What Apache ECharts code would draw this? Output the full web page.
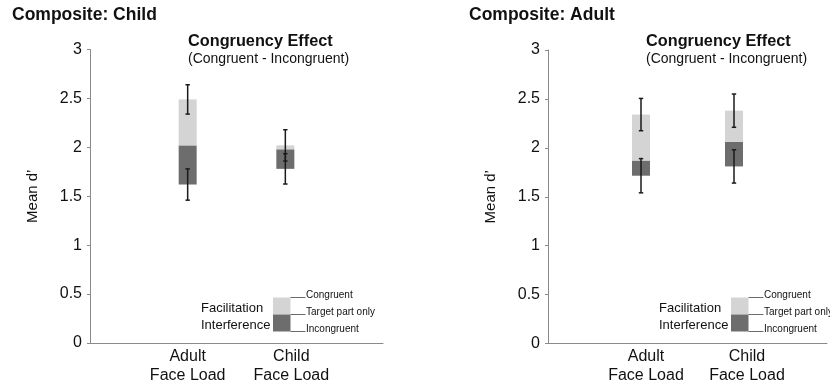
<!DOCTYPE html>
<html>
<head>
<meta charset="utf-8">
<script src="https://cdn.jsdelivr.net/npm/echarts@6/dist/echarts.min.js"></script>
<style>
html,body{margin:0;padding:0;background:#fff;}
#c{width:830px;height:387px;}
</style>
</head>
<body>
<div id="c"></div>
<script>
// ---- data ----
const categories = ['Adult\nFace Load', 'Child\nFace Load'];
const panelTitles = ['Composite: Child', 'Composite: Adult'];
const effectTitle = 'Congruency Effect';
const effectSubtitle = '(Congruent - Incongruent)';
const yAxisName = "Mean d\u2019";
const yTickMin = 0, yTickMax = 3, yTickStep = 0.5;
const legendSideLabels = ['Facilitation', 'Interference'];
const legendLineLabels = ['Congruent', 'Target part only', 'Incongruent'];

// Composite: Child panel
const childCongruent = [2.49, 2.02];
const childTarget = [2.02, 1.98];
const childIncongruent = [1.62, 1.78];
const childCongruentErr = [0.15, 0.16];
const childIncongruentErr = [0.16, 0.155];

// Composite: Adult panel
const adultCongruent = [2.34, 2.38];
const adultTarget = [1.87, 2.06];
const adultIncongruent = [1.715, 1.81];
const adultCongruentErr = [0.165, 0.17];
const adultIncongruentErr = [0.175, 0.17];

// ---- style / layout ----
const FONT = 'Liberation Sans, Arial, Helvetica, sans-serif';
const LIGHT = '#d4d4d4';
const DARK = '#6d6d6d';
const AXIS = '#8a8a8a';
const panels = [
  {left: 90, top: 49.5, cong: childCongruent, targ: childTarget, inc: childIncongruent,
   ce: childCongruentErr, ie: childIncongruentErr, shift: [0, 6], titleX: 12},
  {left: 548, top: 50, cong: adultCongruent, targ: adultTarget, inc: adultIncongruent,
   ce: adultCongruentErr, ie: adultIncongruentErr, shift: [5, 13], titleX: 469}
];
const GW = 293, GH = 293.5;

const chart = echarts.init(document.getElementById('c'), null, {renderer: 'canvas'});

const grids = [], xAxes = [], yAxes = [], series = [], titles = [], graphics = [];

function padded(arr) { return ['-'].concat(arr).concat(['-']); }

function errRender(params, api) {
  const x = api.value(0);
  const lo = api.coord([x, api.value(1)]);
  const hi = api.coord([x, api.value(2)]);
  const cw = 2.2;
  const st = {stroke: '#1a1a1a', lineWidth: 1.5};
  return {type: 'group', children: [
    {type: 'line', shape: {x1: lo[0], y1: lo[1], x2: hi[0], y2: hi[1]}, style: st},
    {type: 'line', shape: {x1: hi[0] - cw, y1: hi[1], x2: hi[0] + cw, y2: hi[1]}, style: st},
    {type: 'line', shape: {x1: lo[0] - cw, y1: lo[1], x2: lo[0] + cw, y2: lo[1]}, style: st}
  ]};
}

panels.forEach((p, gi) => {
  grids.push({left: p.left, top: p.top, width: GW, height: GH, containLabel: false});
  const rich = {};
  categories.forEach((c, i) => {
    rich['s' + (i + 1)] = {fontFamily: FONT, fontSize: 16, lineHeight: 19, color: '#111',
      padding: [0, 0, 0, 2 * p.shift[i]], align: 'center'};
  });
  xAxes.push({
    type: 'category', gridIndex: gi, boundaryGap: false,
    data: [''].concat(categories).concat(['']),
    axisLine: {lineStyle: {color: AXIS, width: 1}},
    axisTick: {show: false},
    splitLine: {show: false},
    axisLabel: {interval: 0, margin: 4, fontFamily: FONT, fontSize: 16, lineHeight: 19, color: '#111',
      formatter: (v, i) => v ? '{s' + i + '|' + v + '}' : '', rich: rich}
  });
  yAxes.push({
    type: 'value', gridIndex: gi, min: yTickMin, max: yTickMax, interval: yTickStep,
    name: yAxisName, nameLocation: 'middle', nameGap: 50, nameRotate: 90,
    nameTextStyle: {fontFamily: FONT, fontSize: 15, color: '#111'},
    axisLine: {show: true, lineStyle: {color: AXIS, width: 1}},
    axisTick: {show: true, length: 3, lineStyle: {color: AXIS}},
    splitLine: {show: false},
    axisLabel: {margin: 8, fontFamily: FONT, fontSize: 16, color: '#111'}
  });
  const base = p.inc;
  const darkPart = p.targ.map((t, i) => +(t - p.inc[i]).toFixed(3));
  const lightPart = p.cong.map((c, i) => +(c - p.targ[i]).toFixed(3));
  series.push({type: 'bar', xAxisIndex: gi, yAxisIndex: gi, stack: 's' + gi, barWidth: 18,
    data: padded(base), itemStyle: {color: 'rgba(0,0,0,0)'}, silent: true});
  series.push({type: 'bar', xAxisIndex: gi, yAxisIndex: gi, stack: 's' + gi, barWidth: 18,
    name: 'Interference', data: padded(darkPart), itemStyle: {color: DARK}});
  series.push({type: 'bar', xAxisIndex: gi, yAxisIndex: gi, stack: 's' + gi, barWidth: 18,
    name: 'Facilitation', data: padded(lightPart), itemStyle: {color: LIGHT}});
  const errData = [];
  p.cong.forEach((c, i) => errData.push([i + 1, c - p.ce[i], c + p.ce[i]]));
  p.inc.forEach((c, i) => errData.push([i + 1, c - p.ie[i], c + p.ie[i]]));
  series.push({type: 'custom', xAxisIndex: gi, yAxisIndex: gi, renderItem: errRender,
    data: errData, z: 10, silent: true});

  titles.push({text: panelTitles[gi], left: p.titleX - 5, top: 1.5,
    textStyle: {fontFamily: FONT, fontSize: 17.5, fontWeight: 'bold', color: '#111'}});
  titles.push({text: effectTitle, left: p.left + 93, top: 28.5,
    textStyle: {fontFamily: FONT, fontSize: 16.3, fontWeight: 'bold', color: '#111'}});
  titles.push({text: effectSubtitle, left: p.left + 93, top: 47,
    textStyle: {fontFamily: FONT, fontSize: 14, fontWeight: 'normal', color: '#111'}});

  // legend key (drawn as graphics)
  const sx = p.left + 183, sy = 297.5, sw = 17.5, sh = 17;
  graphics.push({type: 'rect', left: sx, top: sy, shape: {width: sw, height: sh}, style: {fill: LIGHT}, silent: true});
  graphics.push({type: 'rect', left: sx, top: sy + sh, shape: {width: sw, height: sh}, style: {fill: DARK}, silent: true});
  legendLineLabels.forEach((lab, k) => {
    const ly = sy + k * sh;
    graphics.push({type: 'line', shape: {x1: sx + sw, y1: ly, x2: sx + sw + 15, y2: ly},
      style: {stroke: '#444', lineWidth: 0.8}, silent: true});
    graphics.push({type: 'text', x: sx + sw + 15.5, y: ly - 2,
      style: {text: lab, fontFamily: FONT, fontSize: 10, fill: '#111', textVerticalAlign: 'middle'}, silent: true});
  });
  legendSideLabels.forEach((lab, k) => {
    graphics.push({type: 'text', x: p.left + 111, y: 308 + k * 17,
      style: {text: lab, fontFamily: FONT, fontSize: 13, fill: '#111', textVerticalAlign: 'middle'}, silent: true});
  });
});

chart.setOption({
  animation: false,
  backgroundColor: '#ffffff',
  title: titles,
  grid: grids,
  xAxis: xAxes,
  yAxis: yAxes,
  series: series,
  graphic: graphics
});
</script>
</body>
</html>
